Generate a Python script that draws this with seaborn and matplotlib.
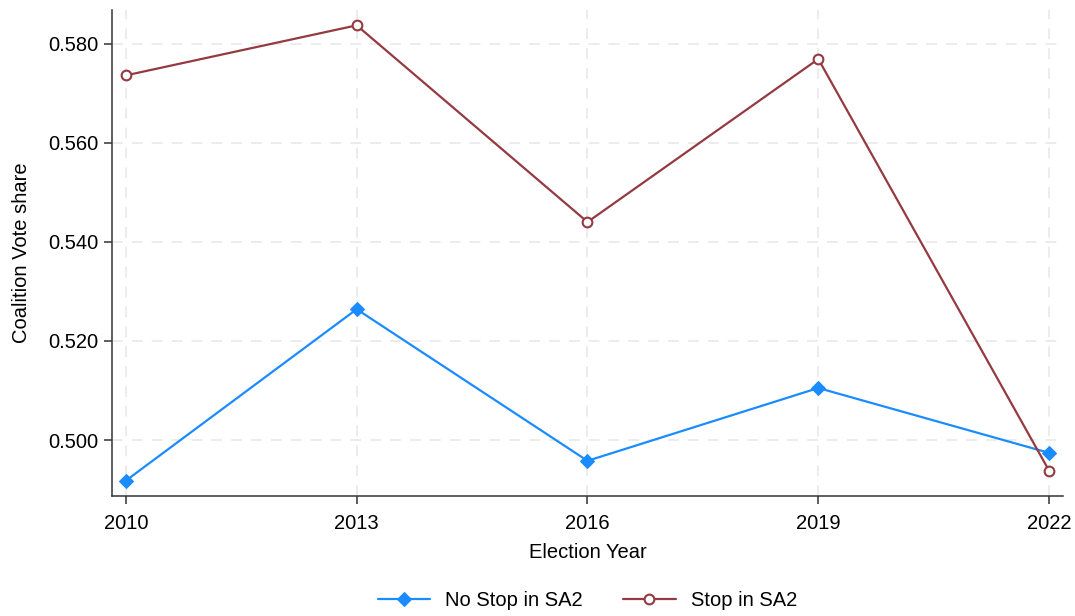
import matplotlib
matplotlib.use("Agg")
import matplotlib.pyplot as plt
import seaborn as sns
import pandas as pd

years = [2010, 2013, 2016, 2019, 2022]
no_stop = [0.4918, 0.5264, 0.4958, 0.5105, 0.4974]
stop = [0.5736, 0.5837, 0.5440, 0.5769, 0.4938]
y_ticks = [0.500, 0.520, 0.540, 0.560, 0.580]
series_names = ["No Stop in SA2", "Stop in SA2"]

blue = "#1a8cff"
maroon = "#943a40"

sns.set_theme(style="ticks")
plt.rcParams["font.family"] = ["Liberation Sans", "DejaVu Sans"]
plt.rcParams["text.color"] = "black"
plt.rcParams["axes.labelcolor"] = "black"

df_no = pd.DataFrame({"year": years, "share": no_stop})
df_st = pd.DataFrame({"year": years, "share": stop})

fig = plt.figure(figsize=(10.75, 6.16), dpi=100)
ax_rect = [0.1042, 0.1948, 0.8846, 0.789]
ax = fig.add_axes(ax_rect)

sns.lineplot(data=df_no, x="year", y="share", ax=ax, color=blue, linewidth=1.6,
             marker="D", markersize=7.5, markeredgecolor=blue, markerfacecolor=blue,
             label=series_names[0], zorder=3)
sns.lineplot(data=df_st, x="year", y="share", ax=ax, color=maroon, linewidth=1.6,
             marker="o", markersize=7, markeredgecolor=maroon, markerfacecolor="white",
             markeredgewidth=1.5, label=series_names[1], zorder=3)

ax.set_xlim(2009.82, 2022.18)
ax.set_ylim(0.4887, 0.5868)
ax.set_xticks(years)
ax.set_xticklabels([str(y) for y in years])
ax.set_yticks(y_ticks)
ax.set_yticklabels([f"{v:.3f}" for v in y_ticks])

ax.grid(True, color="#eaeaea", linestyle=(0, (6, 5)), linewidth=1.3, zorder=0)
ax.set_axisbelow(True)

for side in ["top", "right"]:
    ax.spines[side].set_visible(False)
for side in ["left", "bottom"]:
    ax.spines[side].set_color("#333333")
    ax.spines[side].set_linewidth(1.1)

ax.tick_params(axis="both", direction="out", length=6, width=1.1, color="#333333",
               labelsize=14.5, labelcolor="black", pad=4)
ax.tick_params(axis="x", pad=7)
ax.set_xlabel("Election Year", fontsize=14.5, labelpad=7)
ax.set_ylabel("Coalition Vote share", fontsize=14.5, labelpad=12)

# legend centred under the plotting area
handles, labels = ax.get_legend_handles_labels()
ax.get_legend().remove()
legend_x = ax_rect[0] + ax_rect[2] / 2
fig.legend(handles, labels, loc="lower center", ncol=2, frameon=False,
           fontsize=14.5, bbox_to_anchor=(legend_x, -0.02), handlelength=2.6,
           columnspacing=2.0, handletextpad=0.75)

fig.savefig("out.png", dpi=100, facecolor="white")
